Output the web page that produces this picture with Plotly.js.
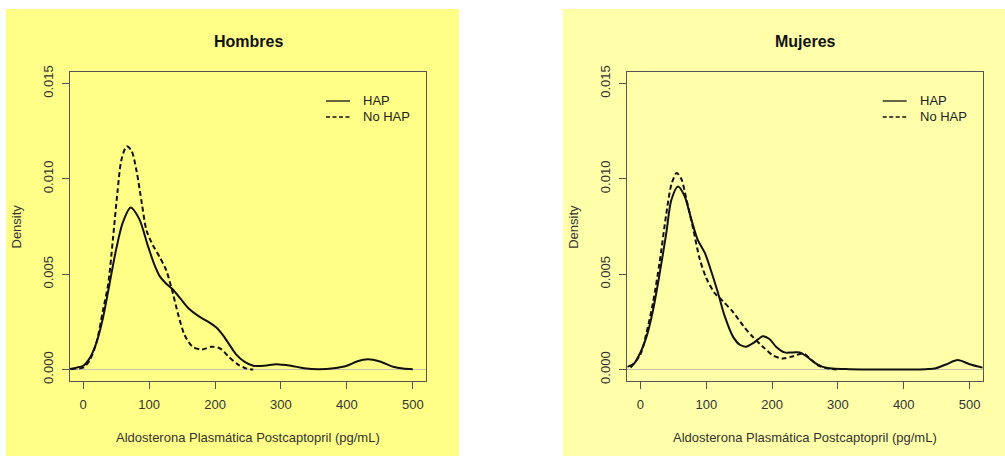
<!DOCTYPE html>
<html>
<head>
<meta charset="utf-8">
<script src="https://cdn.plot.ly/plotly-3.0.1.min.js"></script>
<style>html,body{margin:0;padding:0;background:#fff;}#chart{width:1005px;height:456px;}</style>
</head>
<body>
<div id="chart"></div>
<script>
// Hombres
const menHapX = [-20,-10,0,10,20,30,40,50,60,72,85,98,108,116,126,136,148,160,175,190,202,212,220,232,245,258,275,293,315,335,358,380,400,415,432,450,470,485,500];
const menHapY = [0.00003,0.0001,0.0002,0.0006,0.0014,0.0027,0.0045,0.0063,0.0077,0.0085,0.0079,0.0065,0.0055,0.0049,0.0045,0.0042,0.0037,0.0032,0.0028,0.0025,0.0022,0.0018,0.0014,0.0008,0.0004,0.0002,0.0002,0.00028,0.0002,0.00007,0.00002,0.00007,0.0002,0.00042,0.00054,0.00042,0.00015,0.00005,0.00002];
const menNoX = [-18,-10,0,10,20,30,38,45,52,58,66,73,81,89,96,106,116,126,136,144,154,166,180,195,208,220,235,248,258];
const menNoY = [0.00002,0.00005,0.0001,0.0005,0.0014,0.0031,0.0045,0.0068,0.0093,0.0110,0.0117,0.0115,0.0104,0.0087,0.0073,0.0065,0.0059,0.0052,0.0040,0.0029,0.0018,0.0012,0.00105,0.0012,0.0011,0.0007,0.00026,0.00005,0.0];
// Mujeres
const womHapX = [-20,-10,0,9,19,29,39,47,57,67,77,87,98,108,118,128,141,151,161,174,186,196,206,219,232,242,252,265,277,292,318,350,400,434,449,465,482,500,520];
const womHapY = [0.00014,0.0003,0.0009,0.0017,0.0031,0.0050,0.0071,0.0089,0.0096,0.0091,0.0079,0.0068,0.0061,0.0051,0.0040,0.0028,0.0017,0.0013,0.0012,0.00145,0.00175,0.0016,0.0012,0.0009,0.0009,0.0009,0.0007,0.00035,0.00014,0.00005,0.00002,0,0,0.00002,0.00007,0.00028,0.0005,0.00028,0.0001];
const womNoX = [-15,0,9,19,29,39,47,55,62,70,80,90,100,113,125,141,156,171,186,201,216,232,247,260,272,287,298];
const womNoY = [0.0001,0.0008,0.0019,0.0035,0.0056,0.0081,0.0097,0.0103,0.0100,0.0089,0.0074,0.0058,0.0048,0.0040,0.0036,0.0030,0.0023,0.0017,0.0012,0.00075,0.00058,0.0007,0.00084,0.0005,0.00018,0.00005,0];

const xTicks = [0,100,200,300,400,500];
const yTicks = [0,0.005,0.010,0.015];
const yTickText = ["0.000","0.005","0.010","0.015"];
const panelTitles = ["Hombres","Mujeres"];
const seriesNames = ["HAP","No HAP"];
const xTitle = "Aldosterona Plasmática Postcaptopril (pg/mL)";
const yTitle = "Density";

const W = 1005, H = 456;
const px = v => v / W;
const py = v => 1 - v / H;
const FONT = "Liberation Sans, Arial, sans-serif";

function line(x, y, xa, ya, dash) {
  return {x: x, y: y, xaxis: xa, yaxis: ya, type: 'scatter', mode: 'lines',
    line: {color: '#111', width: 2, dash: dash, shape: 'spline', smoothing: 0.8},
    showlegend: false, hoverinfo: 'skip'};
}
const data = [
  line(menHapX, menHapY, 'x', 'y', 'solid'),
  line(menNoX, menNoY, 'x', 'y', '5px,3px'),
  line(womHapX, womHapY, 'x2', 'y2', 'solid'),
  line(womNoX, womNoY, 'x2', 'y2', '5px,3px')
];

function xax(dom, anchor) {
  return {domain: dom, anchor: anchor, range: [-20, 520], tickvals: xTicks, ticks: 'outside', ticklen: 7,
    tickcolor: '#555', showline: true, mirror: true, linecolor: '#555', linewidth: 1, showgrid: false,
    zeroline: false, tickfont: {family: FONT, size: 13, color: '#333'}, ticklabelstandoff: 4, fixedrange: true};
}
function yax(anchor) {
  return {domain: [75/H, 384/H], anchor: anchor, range: [-0.0006, 0.0156], tickvals: yTicks, ticktext: yTickText,
    ticks: 'outside', ticklen: 7, tickcolor: '#555', tickangle: -90, showline: true, mirror: true,
    linecolor: '#555', linewidth: 1, showgrid: false, zeroline: true, zerolinecolor: '#c4c4a8', zerolinewidth: 1,
    tickfont: {family: FONT, size: 13, color: '#333'}, ticklabelstandoff: 4, fixedrange: true};
}

const boxes = [[70, 426], [627.3, 982.7]];
const shapes = [
  {type: 'rect', xref: 'paper', yref: 'paper', x0: px(6), x1: px(459), y0: 0, y1: py(9), fillcolor: '#FFFF88', line: {width: 0}, layer: 'below'},
  {type: 'rect', xref: 'paper', yref: 'paper', x0: px(563), x1: 1, y0: 0, y1: py(9), fillcolor: '#FFFFAA', line: {width: 0}, layer: 'below'}
];
const annotations = [];
const legendLine = [[326, 350, 361], [882.7, 906.7, 917.7]];
boxes.forEach((b, i) => {
  const cx = (b[0] + b[1]) / 2;
  annotations.push({text: '<b>' + panelTitles[i] + '</b>', xref: 'paper', yref: 'paper', x: px(cx), y: py(42),
    showarrow: false, xanchor: 'center', yanchor: 'middle', font: {family: FONT, size: 16, color: '#111'}});
  annotations.push({text: xTitle, xref: 'paper', yref: 'paper', x: px(cx), y: py(437),
    showarrow: false, xanchor: 'center', yanchor: 'middle', font: {family: FONT, size: 13, color: '#333'}});
  annotations.push({text: yTitle, xref: 'paper', yref: 'paper', x: px(b[0] - 54), y: py(226.5), textangle: -90,
    showarrow: false, xanchor: 'center', yanchor: 'middle', font: {family: FONT, size: 13, color: '#333'}});
  const L = legendLine[i];
  [101, 117].forEach((yy, j) => {
    shapes.push({type: 'line', xref: 'paper', yref: 'paper', x0: px(L[0]), x1: px(L[1]), y0: py(yy), y1: py(yy),
      line: {color: '#111', width: 1.3, dash: j === 0 ? 'solid' : '4px,2.5px'}});
    annotations.push({text: seriesNames[j], xref: 'paper', yref: 'paper', x: px(L[2]), y: py(yy),
      showarrow: false, xanchor: 'left', yanchor: 'middle', font: {family: FONT, size: 13, color: '#222'}});
  });
});

const layout = {
  width: W, height: H, margin: {l: 0, r: 0, t: 0, b: 0},
  paper_bgcolor: '#ffffff', plot_bgcolor: 'rgba(0,0,0,0)',
  showlegend: false,
  xaxis: xax([70/W, 426/W], 'y'),
  yaxis: yax('x'),
  xaxis2: xax([627.3/W, 982.7/W], 'y2'),
  yaxis2: yax('x2'),
  shapes: shapes, annotations: annotations
};
Plotly.newPlot('chart', data, layout, {displayModeBar: false, staticPlot: true});
</script>
</body>
</html>
